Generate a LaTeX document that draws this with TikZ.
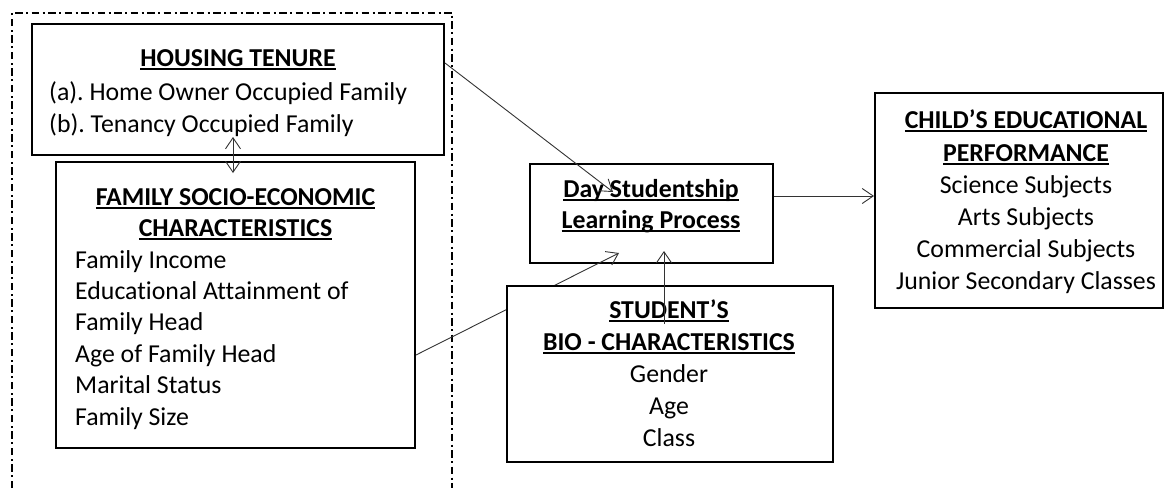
\documentclass[tikz,border=0pt]{standalone}
\usepackage{fontspec}
\setmainfont{Carlito}[Ligatures={NoCommon}]
\usetikzlibrary{arrows.meta}
\newcommand\myul[1]{\setbox0\hbox{#1}\rlap{\rule[-4pt]{\wd0}{1.6pt}}\box0}
\frenchspacing
\begin{document}
\begin{tikzpicture}[x=1pt,y=-1pt,
  >={Straight Barb[length=11pt,width=15pt,line width=0.9pt]},
  box/.style={draw, line width=2pt, fill=white, inner sep=0pt},
  txt/.style={inner sep=0pt, anchor=base, font=\fontsize{25.8}{31}\selectfont},
  ttl/.style={txt, font=\fontsize{25.8}{31}\selectfont\bfseries},
  arr/.style={line width=0.9pt, draw=black!80, ->},
  grp/.style={line width=2pt, dash pattern=on 7.5pt off 3.5pt on 2pt off 3.5pt}]
\useasboundingbox (0,0) rectangle (1172,488);
% dashed group
\coordinate (g1) at (12,488);
\coordinate (g2) at (12,12.5);
\coordinate (g3) at (452,12.5);
\coordinate (g4) at (452,488);
\draw[grp] (g1) -- (g2) -- (g3) -- (g4);
% boxes
\node[box, minimum width=412pt, minimum height=131pt] (housing) at (238,89.5) {};
\node[box, minimum width=359pt, minimum height=286pt] (family) at (235.5,305) {};
\node[box, minimum width=243pt, minimum height=99pt] (day) at (651.5,213.5) {};
\node[box, minimum width=288pt, minimum height=215pt] (child) at (1019,200.5) {};
% family -> day (partly hidden by student box)
\coordinate (f1) at ([yshift=-194pt]family.north east);
\coordinate (d2) at (619,253);
\draw[arr] (f1) -- (d2);
\node[box, minimum width=326pt, minimum height=176pt] (student) at (670,374) {};
% texts: housing
\node[ttl] (ht) at (238,66) {\myul{HOUSING TENURE}};
\node[txt, anchor=base west] (ha) at (49,100) {(a). Home Owner Occupied Family};
\node[txt, anchor=base west] (hb) at (49,132) {(b). Tenancy Occupied Family};
% family
\node[ttl] (ft1) at (235.5,205) {\myul{FAMILY SOCIO-ECONOMIC}};
\node[ttl] (ft2) at (235.5,236) {\myul{CHARACTERISTICS}};
\foreach \t [count=\i from 0] in {Family Income, Educational Attainment of, Family Head, Age of Family Head, Marital Status, Family Size}
  \node[txt, anchor=base west] (fi\i) at (75,{268+31.4*\i}) {\t};
% day
\node[ttl] (dt1) at (651,197) {\myul{Day Studentship}};
\node[ttl] (dt2) at (651,228) {\myul{Learning Process}};
% student
\node[ttl] (st1) at (669,318) {\myul{STUDENT’S}};
\node[ttl] (st2) at (669,350) {\myul{BIO - CHARACTERISTICS}};
\node[txt] (sg) at (669,382) {Gender};
\node[txt] (sa) at (669,414) {Age};
\node[txt] (sc) at (669,446) {Class};
% child
\node[ttl] (ct1) at (1026,128) {\myul{CHILD’S EDUCATIONAL}};
\node[ttl] (ct2) at (1026,161) {\myul{PERFORMANCE}};
\node[txt] (c1) at (1026,193) {Science Subjects};
\node[txt] (c2) at (1026,225) {Arts Subjects};
\node[txt] (c3) at (1026,257) {Commercial Subjects};
\node[txt] (c4) at (1026,289) {Junior Secondary Classes};
% connectors on top
\coordinate (h1) at ([yshift=-40pt]housing.north east);
\coordinate (d1) at (613,192);
\draw[arr] (h1) -- (d1);
\coordinate (s1) at (664,324);
\coordinate (d3) at (664,251);
\draw[arr] (s1) -- (d3);
\coordinate (d4) at ([yshift=17.5pt]day.east);
\draw[arr] (d4) -- (child.west |- d4);
\coordinate (h2) at (233,137);
\coordinate (f2) at (233,173);
\draw[arr, <->] (h2) -- (f2);
\end{tikzpicture}
\end{document}
